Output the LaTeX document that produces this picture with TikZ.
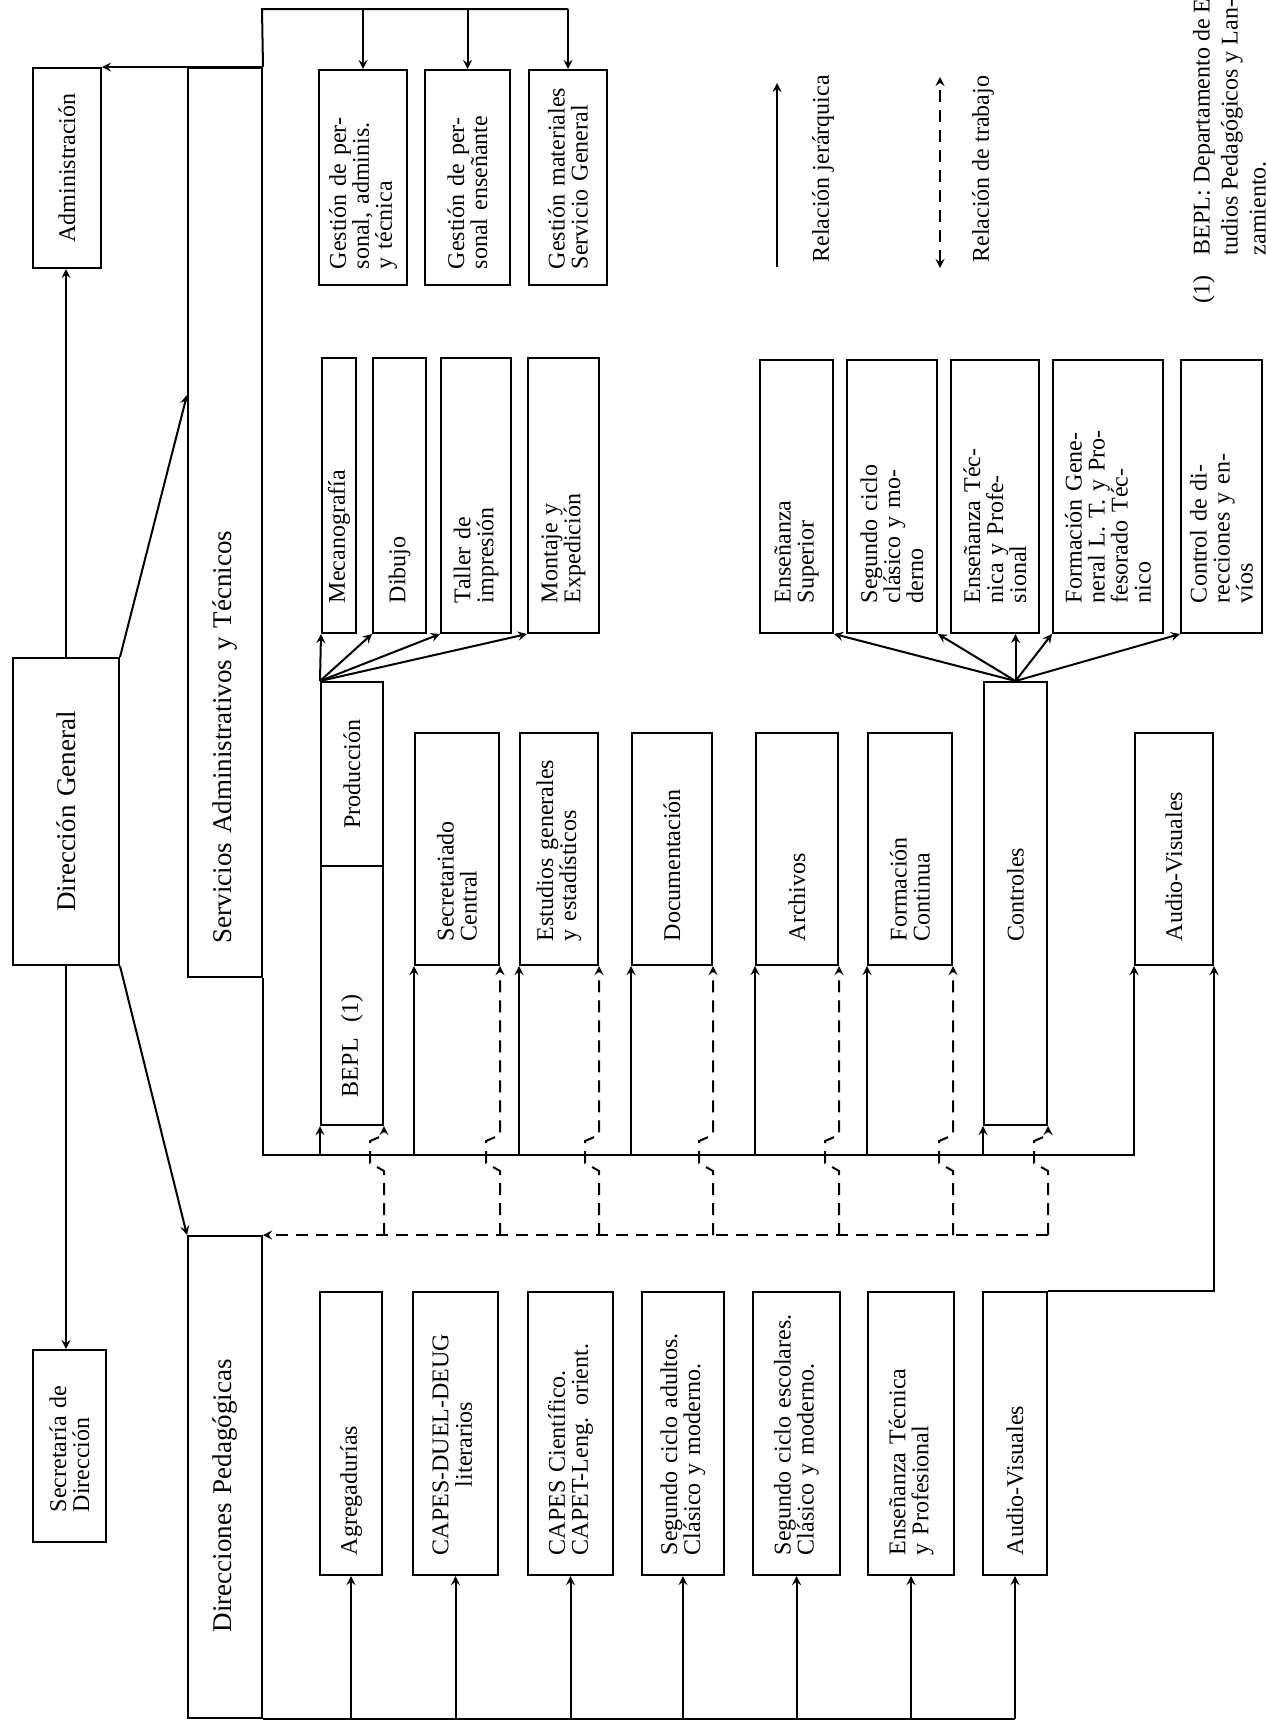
\documentclass[tikz,border=0pt]{standalone}
\usepackage{fontspec}
\setmainfont{Liberation Serif}
\usepackage{tikz}
\usetikzlibrary{calc}
\newcommand{\tx}{\fontsize{12}{11.5}\selectfont\hyphenpenalty=10000\exhyphenpenalty=10000}
\newcommand{\titfont}{\fontsize{13.5}{13}\selectfont\spaceskip=0.55em\relax}
\newcommand{\notafont}{\fontsize{12}{14}\selectfont}
\tikzset{every node/.append style={font=\tx}}

\begin{document}
\begin{tikzpicture}[x=0.5pt, y=-0.5pt, >=stealth, line width=1pt,
    caja/.style={draw, rotate=90, inner sep=0pt, align=left},
    titulo/.style={font=\titfont},
    trab/.style={dash pattern=on 6pt off 4pt}]
    \useasboundingbox (0,0) rectangle (1265,1729);
    \clip (0,0) rectangle (1265,1729);

    % direccion
    \node[caja, align=center, minimum width=100pt, minimum height=34pt, text width=90pt] (admin) at (67,168) {Administración};
    \node[caja, titulo, align=center, minimum width=153.5pt, minimum height=53pt, text width=140pt] (dg) at (66,811.5) {Dirección General};
    \node[caja, minimum width=96pt, minimum height=36.5pt, text width=66pt] (secdir) at (69.5,1446) {Secretaría de\\Dirección};
    \node[caja, titulo, minimum width=454.5pt, minimum height=37pt, text width=420.5pt] (serv) at (225,522.5) {Servicios Administrativos y Técnicos};
    \node[caja, titulo, minimum width=241pt, minimum height=37pt, text width=155pt] (dp) at (225,1477) {Direcciones Pedagógicas};

    % gestion
    \node[caja, minimum width=107.5pt, minimum height=44pt, text width=91.5pt] (g1) at (363,177.5) {Gestión de per-\\sonal, adminis.\\y técnica};
    \node[caja, minimum width=107.5pt, minimum height=42.5pt, text width=91.5pt] (g2) at (467.5,177.5) {Gestión de per-\\sonal enseñante};
    \node[caja, minimum width=107.5pt, minimum height=39pt, text width=91.5pt] (g3) at (568,177.5) {Gestión materiales\\Servicio General};

    % produccion
    \node[caja, minimum width=137.5pt, minimum height=17pt, text width=107.5pt] (meca) at (339,495.5) {Mecanografía};
    \node[caja, minimum width=137.5pt, minimum height=26.5pt, text width=107.5pt] (dib) at (399.5,495.5) {Dibujo};
    \node[caja, minimum width=137.5pt, minimum height=35pt, text width=107.5pt] (taller) at (476,495.5) {Taller de\\impresión};
    \node[caja, minimum width=137.5pt, minimum height=35.5pt, text width=107.5pt] (mont) at (563.5,495.5) {Montaje y\\Expedición};

    % controles
    \node[caja, minimum width=136.5pt, minimum height=36.5pt, text width=106.5pt] (ens) at (796.5,496.5) {Enseñanza\\Superior};
    \node[caja, minimum width=136.5pt, minimum height=45pt, text width=106.5pt] (seg) at (892,496.5) {Segundo ciclo\\clásico y mo-\\derno};
    \node[caja, minimum width=136.5pt, minimum height=44pt, text width=106.5pt] (enst) at (995,496.5) {Enseñanza Téc-\\nica y Profe-\\sional};
    \node[caja, minimum width=136.5pt, minimum height=55pt, text width=106.5pt] (fg) at (1108,496.5) {Formación Gene-\\neral L. T. y Pro-\\fesorado Téc-\\nico};
    \node[caja, minimum width=136.5pt, minimum height=40.5pt, text width=106.5pt] (cd) at (1221.5,496.5) {Control de di-\\recciones y en-\\víos};

    % servicios
    \node[caja, align=center, minimum width=92pt, minimum height=31pt, text width=80pt] (prod) at (352,774) {Producción};
    \node[caja, minimum width=129.5pt, minimum height=31pt, text width=101.5pt] (bepl) at (352,995.5) {BEPL\ \ (1)};
    \node[caja, minimum width=116pt, minimum height=42pt, text width=92pt] (sec) at (457,849) {Secretariado\\Central};
    \node[caja, minimum width=116pt, minimum height=39pt, text width=92pt] (est) at (559,849) {Estudios generales\\y estadísticos};
    \node[caja, minimum width=116pt, minimum height=40pt, text width=92pt] (doc) at (672,849) {Documentación};
    \node[caja, minimum width=116pt, minimum height=41pt, text width=92pt] (arch) at (797,849) {Archivos};
    \node[caja, minimum width=116pt, minimum height=42pt, text width=92pt] (fc) at (910,849) {Formación\\Continua};
    \node[caja, minimum width=221.5pt, minimum height=31.5pt, text width=37.5pt] (ctrl) at (1015.5,903.5) {Controles};
    \node[caja, minimum width=116pt, minimum height=39pt, text width=92pt] (avs) at (1174,849) {Audio-Visuales};

    % pedagogicas
    \node[caja, minimum width=141.5pt, minimum height=31pt, text width=121.5pt] (agreg) at (351,1433.5) {Agregadurías};
    \node[caja, minimum width=141.5pt, minimum height=42.5pt, text width=121.5pt] (capl) at (455.5,1433.5) {\begin{tabular}{@{}c@{}}CAPES-DUEL-DEUG\\literarios\end{tabular}};
    \node[caja, minimum width=141.5pt, minimum height=42.5pt, text width=121.5pt] (capc) at (570.5,1433.5) {CAPES Científico.\\CAPET-Leng. orient.};
    \node[caja, minimum width=141.5pt, minimum height=41pt, text width=121.5pt] (sega) at (683,1433.5) {Segundo ciclo adultos.\\Clásico y moderno.};
    \node[caja, minimum width=141.5pt, minimum height=43.5pt, text width=121.5pt] (sege) at (796.5,1433.5) {Segundo ciclo escolares.\\Clásico y moderno.};
    \node[caja, minimum width=141.5pt, minimum height=43pt, text width=121.5pt] (ensp) at (911,1433.5) {Enseñanza Técnica\\y Profesional};
    \node[caja, minimum width=141.5pt, minimum height=32pt, text width=121.5pt] (avp) at (1015,1433.5) {Audio-Visuales};

    % leyenda
    \coordinate (lj0) at (777,267);
    \coordinate (lj1) at (777,83);
    \draw[->] (lj0) -- (lj1);
    \node[rotate=90, anchor=west] (lj) at (823,270) {Relación jerárquica};
    \coordinate (lt0) at (940,268);
    \coordinate (lt1) at (940,77);
    \draw[trab, <->] (lt0) -- (lt1);
    \node[rotate=90, anchor=west] (lt) at (983,270) {Relación de trabajo};
    \node[rotate=90, anchor=north west, align=left, inner sep=0pt, font=\notafont] (nota) at (1189,304)
        {(1)\hspace{10pt}\begin{tabular}[t]{@{}l@{}}BEPL: Departamento de Es-\\tudios Pedagógicos y Lan-\\zamiento.\end{tabular}};

    \coordinate (cima) at (262,9);
    \coordinate (trunk) at (262,1155);

    \draw[->] (dg.east) -- (dg.east |- admin.west);
    \draw[->] (dg.west) -- (dg.west |- secdir.east);
    \draw[->] (dg.south east) -- ($(serv.north west)!0.64!(serv.north east)$);
    \draw[->] (dg.south west) -- (dp.north east);
    \draw[->] (serv.south east) -- (admin.south east);

    \draw (serv.south east) -- (cima) -- (g3.east |- cima);
    \foreach \nd in {g1,g2,g3}
        \draw[->] (\nd.east |- cima) -- (\nd.east);

    \draw[->] (serv.south west) |- (avs.north west |- trunk) -- (avs.north west);
    \foreach \nd in {bepl,sec,est,doc,arch,fc,ctrl}
        \draw[->] (\nd.north west |- trunk) -- (\nd.north west);

    \draw[trab, ->] (ctrl.south west |- dp.south east) -- (dp.south east);
    \foreach \nd in {bepl,sec,est,doc,arch,fc,ctrl}
        \draw[trab, ->] (\nd.south west |- dp.south east) -- ++(0,-64) -- ++(-14,-8) -- ++(0,-22) -- ++(14,-6) -- (\nd.south west);

    \draw (dp.south west) -- (avp.west |- dp.south west);
    \foreach \nd in {agreg,capl,capc,sega,sege,ensp,avp}
        \draw[->] (\nd.west |- dp.south west) -- (\nd.west);
    \draw[->] (avp.south east) -| (avs.south west);

    \foreach \nd in {meca,dib,taller,mont}
        \draw[->] (prod.north east) -- (\nd.north west);

    \draw[->] (ctrl.east) -- (ens.south west);
    \draw[->] (ctrl.east) -- (seg.south west);
    \draw[->] (ctrl.east) -- (ctrl.east |- enst.west);
    \draw[->] (ctrl.east) -- (fg.north west);
    \draw[->] (ctrl.east) -- (cd.north west);
\end{tikzpicture}
\end{document}
